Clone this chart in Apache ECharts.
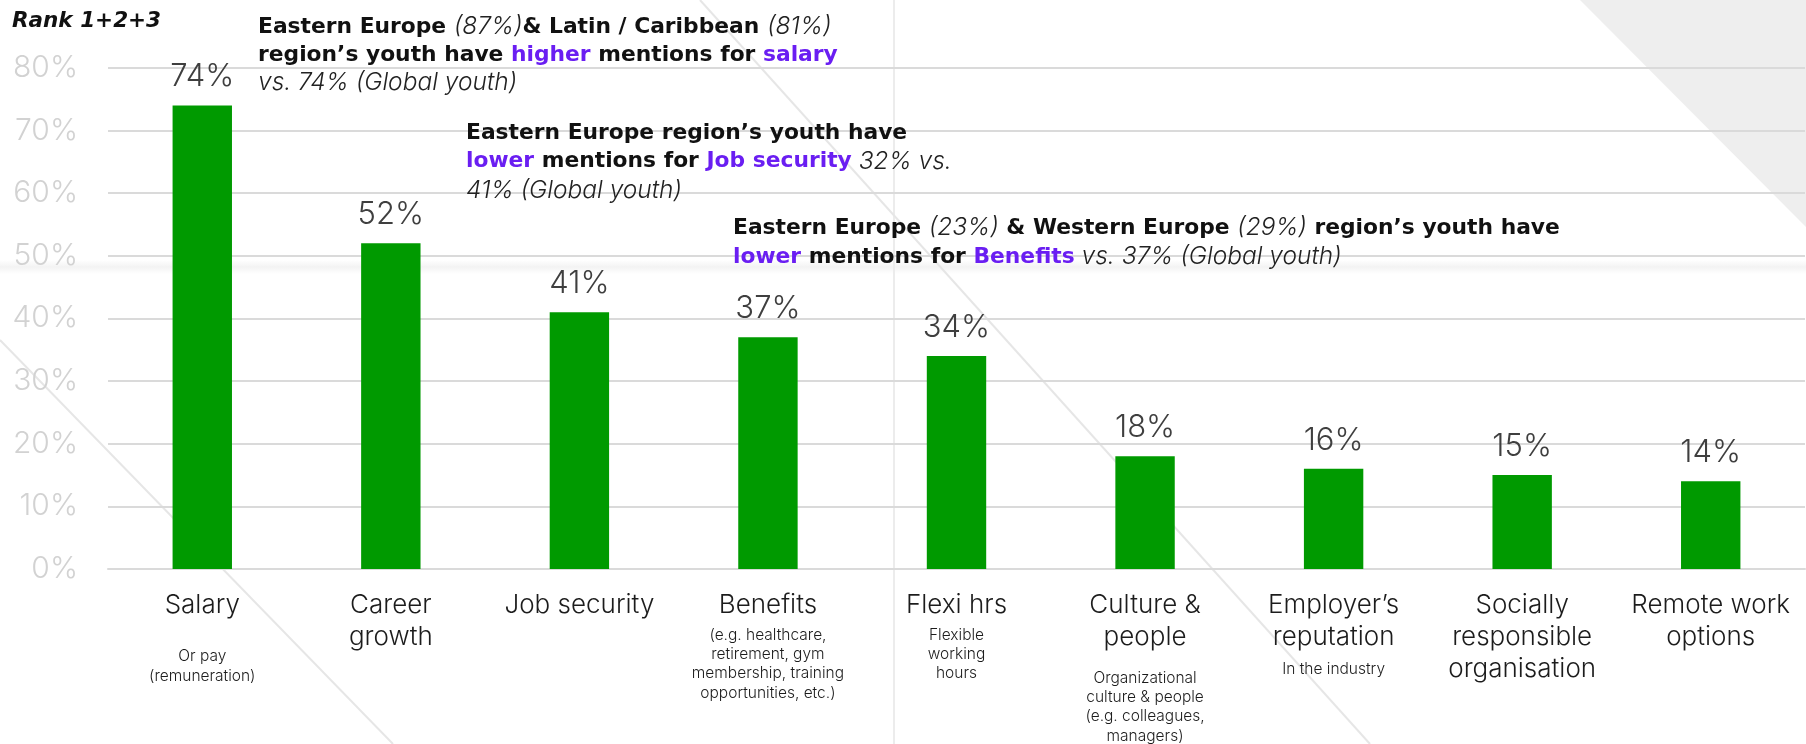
<!DOCTYPE html>
<html>
<head>
<meta charset="utf-8">
<title>Rank 1+2+3</title>
<script src="https://cdn.jsdelivr.net/npm/echarts@6/dist/echarts.min.js"></script>
<style>
  html, body { margin: 0; padding: 0; background: #ffffff; }
  #chart { width: 1806px; height: 744px; }
</style>
</head>
<body>
<div id="chart"></div>
<script>
// ---- data ----
const categories = [
  'Salary',
  'Career\ngrowth',
  'Job security',
  'Benefits',
  'Flexi hrs',
  'Culture &\npeople',
  'Employer’s\nreputation',
  'Socially\nresponsible\norganisation',
  'Remote work\noptions'
];
const subLabels = [
  ['Or pay', '(remuneration)'],
  [],
  [],
  ['(e.g. healthcare,', 'retirement, gym', 'membership, training', 'opportunities, etc.)'],
  ['Flexible', 'working', 'hours'],
  ['Organizational', 'culture & people', '(e.g. colleagues,', 'managers)'],
  ['In the industry'],
  [],
  []
];
const values = [74, 52, 41, 37, 34, 18, 16, 15, 14];
const yMin = 0;
const yMax = 80;
const yStep = 10;
const chartTitle = 'Rank 1+2+3';

// ---- layout / style ----
const FONT = 'Inter, "Open Sans", "Noto Sans", sans-serif';
const BOLD_FONT = '"DejaVu Sans", Inter, sans-serif';
const GREEN = '#009a00';
const PURPLE = '#6a1ef2';
const GRID_COLOR = '#dadada';
// vertical space between a category name and its small description
const subGaps = [26, 0, 0, 4.5, 4.5, 15.5, 6.5, 0, 0];

const labelRich = {
  m: { fontFamily: FONT, fontSize: 26, lineHeight: 32, fontWeight: 300, color: '#1c1c1c' },
  s: { fontFamily: FONT, fontSize: 15.5, lineHeight: 19.3, fontWeight: 300, color: '#1c1c1c' }
};
subGaps.forEach((g, i) => { labelRich['g' + i] = { fontSize: 1, lineHeight: g }; });

function categoryLabel(value, index) {
  const lines = value.split('\n').map(l => '{m|' + l + '}');
  const sub = subLabels[index] || [];
  if (sub.length) {
    lines.push('{g' + index + '| }');
    sub.forEach(s => lines.push('{s|' + s + '}'));
  }
  return lines.join('\n');
}

// annotation text styles (graphic text uses `fill`)
const noteRich = {
  b: { fontFamily: BOLD_FONT, fontSize: 21.8, fontWeight: 'bold', fill: '#111111' },
  i: { fontFamily: FONT, fontSize: 24.5, fontWeight: 300, fontStyle: 'italic', fill: '#222222' },
  p: { fontFamily: BOLD_FONT, fontSize: 21.8, fontWeight: 'bold', fill: PURPLE }
};
function note(lines, x, y, lh) {
  const rich = {};
  Object.keys(noteRich).forEach(k => { rich[k] = Object.assign({ lineHeight: lh }, noteRich[k]); });
  return {
    type: 'text', x: x, y: y, z: 20, silent: true,
    style: { text: lines.join('\n'), rich: rich, verticalAlign: 'top', align: 'left' }
  };
}

const chart = echarts.init(document.getElementById('chart'), null, { renderer: 'canvas' });

chart.setOption({
  backgroundColor: '#ffffff',
  animation: false,
  grid: { left: 108, right: 1, top: 68, bottom: 173 },
  xAxis: {
    type: 'category',
    data: categories,
    axisTick: { show: false },
    axisLine: { show: true, lineStyle: { color: GRID_COLOR, width: 2 } },
    axisLabel: {
      interval: 0,
      hideOverlap: false,
      margin: 20,
      formatter: categoryLabel,
      rich: labelRich
    }
  },
  yAxis: {
    type: 'value',
    min: yMin,
    max: yMax,
    interval: yStep,
    axisLine: { show: false },
    axisTick: { show: false },
    splitLine: { show: true, lineStyle: { color: GRID_COLOR, width: 2 } },
    axisLabel: {
      margin: 30,
      formatter: v => v + '%',
      fontFamily: FONT,
      fontSize: 30,
      fontWeight: 300,
      color: '#d2d2d2'
    }
  },
  series: [{
    type: 'bar',
    data: values,
    barWidth: '31.5%',
    itemStyle: { color: GREEN },
    label: {
      show: true,
      position: 'top',
      distance: 13,
      formatter: p => p.value + '%',
      fontFamily: FONT,
      fontSize: 31,
      fontWeight: 300,
      color: '#3f3f3f'
    },
    z: 5
  }],
  graphic: [
    // page decorations behind the chart
    { type: 'polygon', z: -10, silent: true,
      shape: { points: [[1580, 0], [1806, 0], [1806, 227]] },
      style: { fill: '#eeeeee' } },
    { type: 'rect', z: -10, silent: true,
      shape: { x: 0, y: 260, width: 1806, height: 14 },
      style: { fill: new echarts.graphic.LinearGradient(0, 0, 0, 1, [
        { offset: 0, color: 'rgba(240,240,240,0)' },
        { offset: 0.5, color: 'rgba(240,240,240,0.8)' },
        { offset: 1, color: 'rgba(240,240,240,0)' }
      ]) } },
    { type: 'line', z: -10, silent: true,
      shape: { x1: 894, y1: 0, x2: 894, y2: 744 },
      style: { stroke: '#ececec', lineWidth: 2 } },
    { type: 'line', z: -10, silent: true,
      shape: { x1: 700, y1: 0, x2: 1370, y2: 744 },
      style: { stroke: '#e6e6e6', lineWidth: 2 } },
    { type: 'line', z: -10, silent: true,
      shape: { x1: 0, y1: 340, x2: 393, y2: 744 },
      style: { stroke: '#e6e6e6', lineWidth: 2 } },

    // heading
    { type: 'text', x: 12, y: 21, z: 20, silent: true,
      style: { text: chartTitle, fontFamily: BOLD_FONT, fontSize: 21.5, fontWeight: 'bold',
               fontStyle: 'italic', fill: '#111111', verticalAlign: 'middle' } },

    // regional call-outs
    note([
      '{b|Eastern Europe }{i|(87%)}{b|& Latin / Caribbean }{i|(81%)}',
      '{b|region’s youth have }{p|higher}{b| mentions for }{p|salary}',
      '{i|vs. 74% (Global youth)}'
    ], 258, 13, 28),
    note([
      '{b|Eastern Europe region’s youth have}',
      '{p|lower}{b| mentions for }{p|Job security}{i| 32% vs.}',
      '{i|41% (Global youth)}'
    ], 466, 119, 28.5),
    note([
      '{b|Eastern Europe }{i|(23%)}{b| & Western Europe }{i|(29%)}{b| region’s youth have}',
      '{p|lower}{b| mentions for }{p|Benefits}{i| vs. 37% (Global youth)}'
    ], 733, 213.5, 29)
  ]
});
</script>
</body>
</html>
